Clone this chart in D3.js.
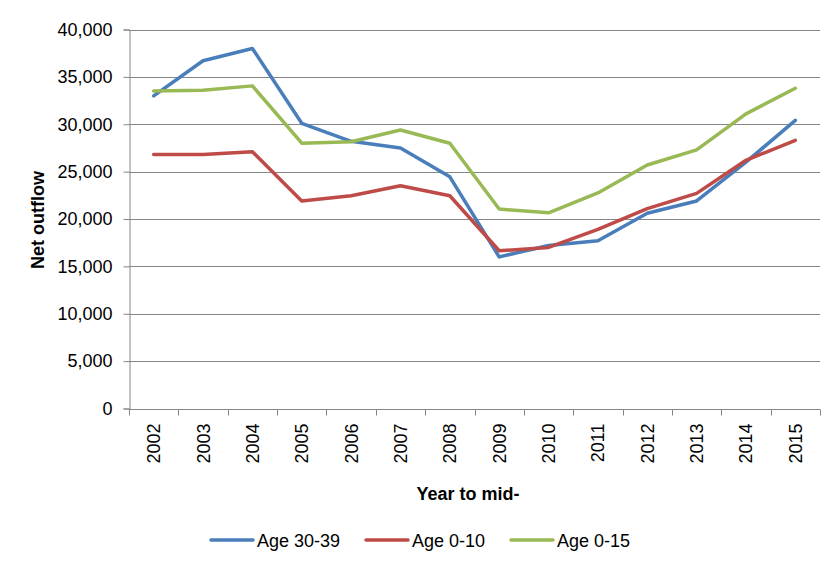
<!DOCTYPE html>
<html>
<head>
<meta charset="utf-8">
<script src="https://cdn.jsdelivr.net/npm/d3@7"></script>
<style>
  html, body { margin: 0; padding: 0; background: #fff; }
  svg { display: block; }
  text { font-family: "Liberation Sans", Arial, sans-serif; fill: #000; }
</style>
</head>
<body>
<svg id="chart" width="836" height="571"></svg>
<script>
const years = ["2002","2003","2004","2005","2006","2007","2008","2009","2010","2011","2012","2013","2014","2015"];
const age3039 = [33000, 36700, 38000, 30100, 28200, 27500, 24450, 16000, 17200, 17700, 20600, 21900, 26000, 30400];
const age010  = [26800, 26800, 27100, 21900, 22450, 23500, 22450, 16650, 17000, 18900, 21100, 22700, 26200, 28300];
const age015  = [33500, 33600, 34050, 28000, 28150, 29400, 28000, 21050, 20650, 22750, 25700, 27300, 31100, 33800];
const yTicks = [0, 5000, 10000, 15000, 20000, 25000, 30000, 35000, 40000];
const seriesNames = ["Age 30-39", "Age 0-10", "Age 0-15"];
const seriesColors = ["#4A7EBB", "#BE4B48", "#98B954"];
const seriesData = [age3039, age010, age015];

(function () {
const svg = d3.select("#chart");
const pLeft = 129, pRight = 820, pTop = 29.5, pBottom = 408.5;

const x = d3.scaleBand().domain(years).range([pLeft, pRight]).padding(0);
const y = d3.scaleLinear().domain([0, 40000]).range([pBottom, pTop]);

// gridlines
svg.append("g").selectAll("line").data(yTicks.filter(d => d > 0)).join("line")
  .attr("x1", pLeft).attr("x2", pRight)
  .attr("y1", d => Math.round(y(d)) + 0.5).attr("y2", d => Math.round(y(d)) + 0.5)
  .attr("stroke", "#868686").attr("stroke-width", 1);

// y axis
const yAxis = d3.axisLeft(y).tickValues(yTicks).tickSize(6).tickPadding(11)
  .tickFormat(d3.format(","));
const gy = svg.append("g").attr("transform", `translate(${pLeft + 0.5},0)`).call(yAxis);
gy.select(".domain").attr("stroke", "#868686");
gy.selectAll(".tick line").attr("stroke", "#868686");
gy.selectAll(".tick text").attr("font-size", 18).attr("fill", "#000")
  .style("font-family", "'Liberation Sans', Arial, sans-serif");

// x axis line + ticks at band boundaries
const gx = svg.append("g").attr("transform", `translate(0,${Math.round(pBottom) + 0.5})`);
gx.append("line").attr("x1", pLeft).attr("x2", pRight).attr("stroke", "#868686");
const bounds = years.map(d => x(d)).concat([pRight]);
gx.selectAll("line.tk").data(bounds).join("line").attr("class", "tk")
  .attr("x1", d => Math.round(d) + 0.5).attr("x2", d => Math.round(d) + 0.5)
  .attr("y1", 0).attr("y2", 6).attr("stroke", "#868686");
gx.selectAll("text").data(years).join("text")
  .attr("transform", d => `translate(${x(d) + x.bandwidth() / 2 + 6.5},14) rotate(-90)`)
  .attr("text-anchor", "end")
  .attr("font-size", 18)
  .text(d => d);

// lines
const line = d3.line().x((d, i) => x(years[i]) + x.bandwidth() / 2).y(d => y(d));
seriesData.forEach((s, k) => {
  svg.append("path").datum(s)
    .attr("d", line)
    .attr("fill", "none")
    .attr("stroke", seriesColors[k])
    .attr("stroke-width", 3.5)
    .attr("stroke-linejoin", "round")
    .attr("stroke-linecap", "round");
});

// axis titles
svg.append("text")
  .attr("transform", "translate(44,220) rotate(-90)")
  .attr("text-anchor", "middle")
  .attr("font-size", 18).attr("font-weight", "bold")
  .text("Net outflow");
svg.append("text")
  .attr("x", 468).attr("y", 500)
  .attr("text-anchor", "middle")
  .attr("font-size", 18).attr("font-weight", "bold")
  .text("Year to mid-");

// legend
const legendX = [211, 366, 511];
const lg = svg.append("g");
seriesNames.forEach((n, k) => {
  lg.append("line")
    .attr("x1", legendX[k]).attr("x2", legendX[k] + 42)
    .attr("y1", 540).attr("y2", 540)
    .attr("stroke", seriesColors[k]).attr("stroke-width", 3.5)
    .attr("stroke-linecap", "round");
  lg.append("text")
    .attr("x", legendX[k] + 46).attr("y", 546.5)
    .attr("font-size", 18)
    .text(n);
});
})();
</script>
</body>
</html>
